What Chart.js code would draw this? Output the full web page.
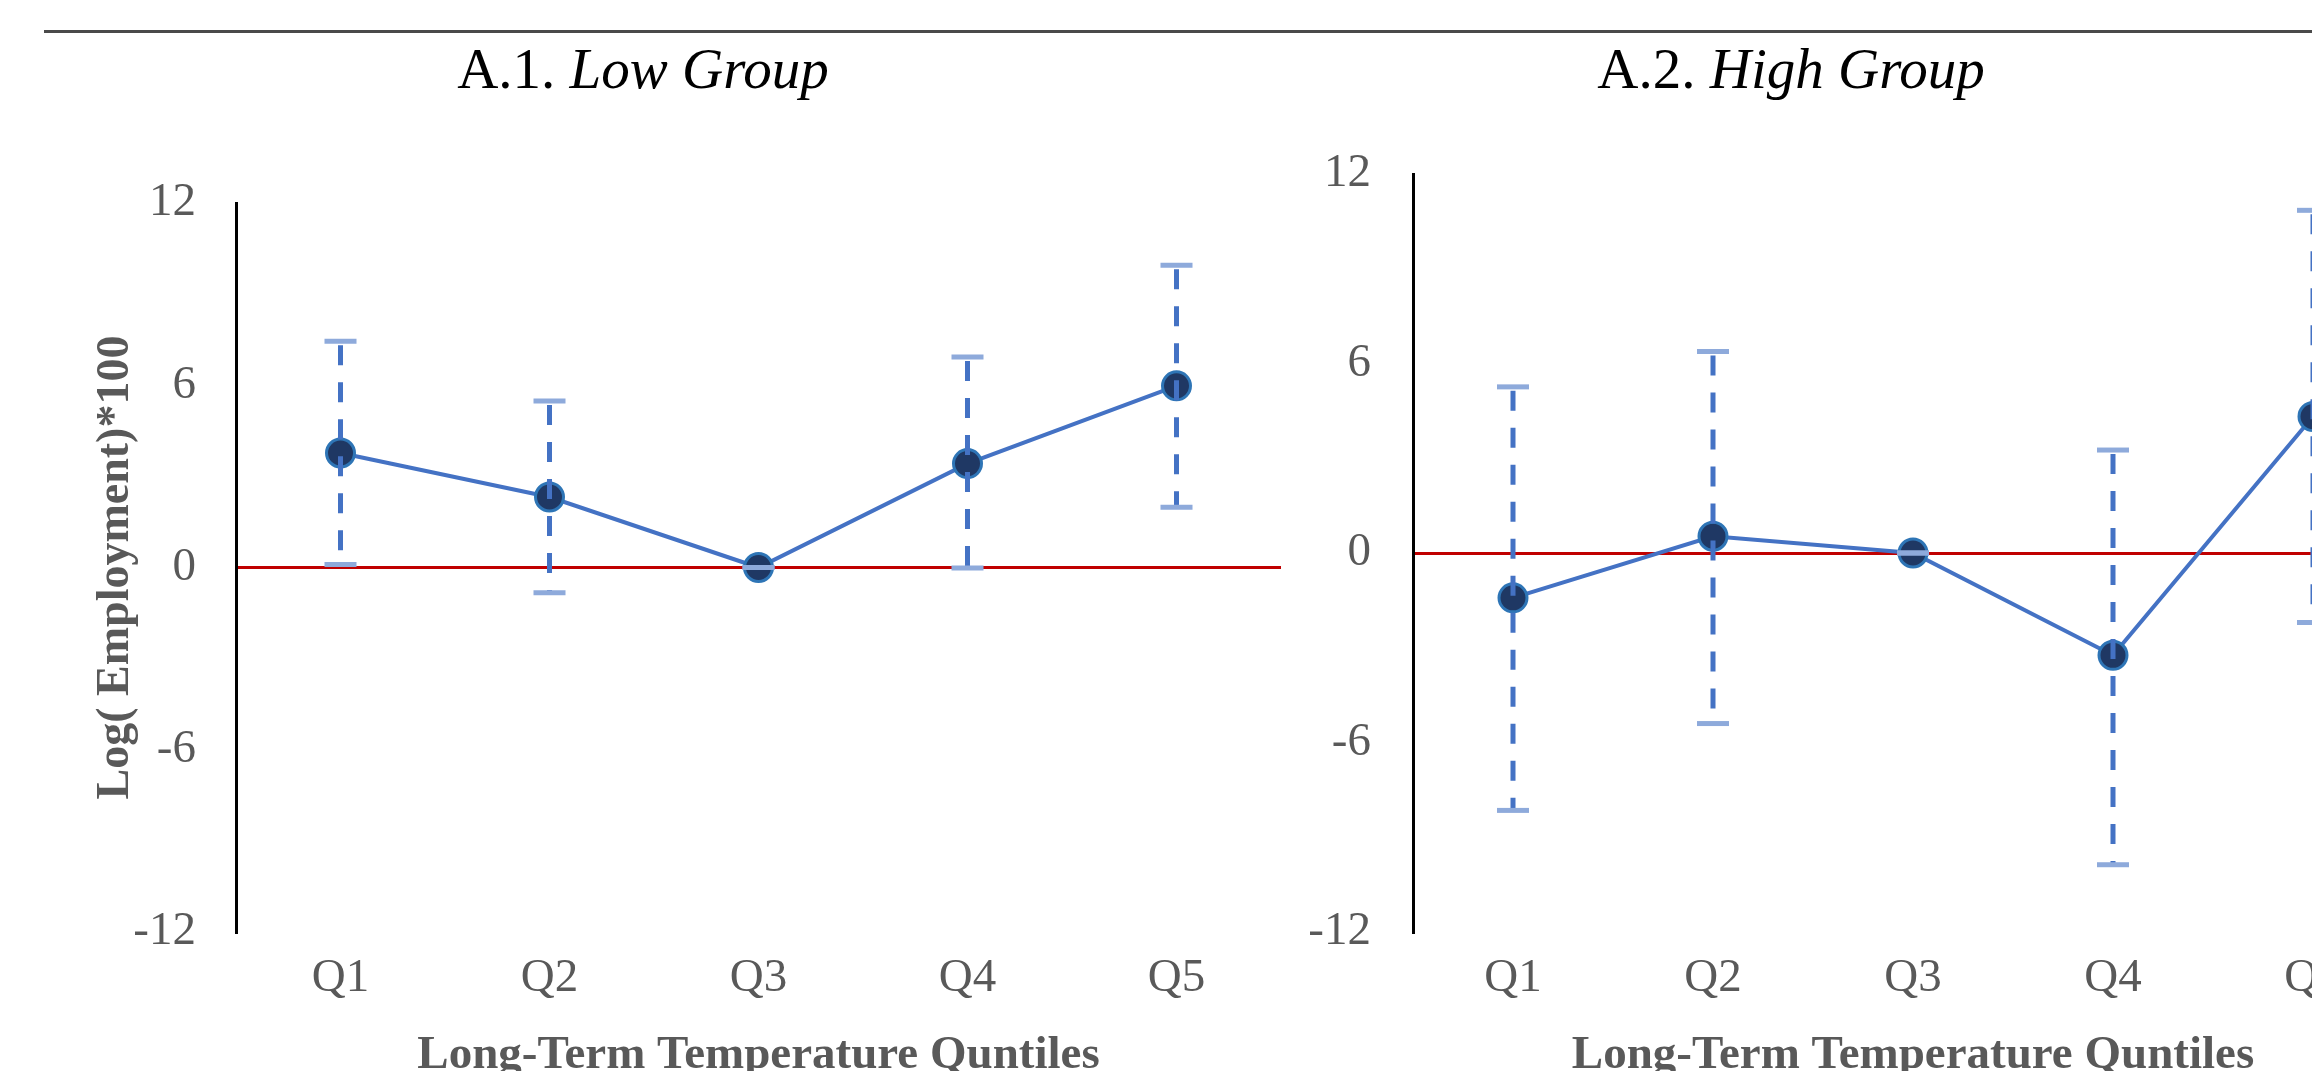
<!DOCTYPE html>
<html><head><meta charset="utf-8">
<script src="https://cdn.jsdelivr.net/npm/chart.js@4.4.1/dist/chart.umd.min.js"></script>
<style>
html,body{margin:0;padding:0;background:#fff;overflow:hidden;width:2312px;height:1071px;}
#wrap{position:relative;width:2312px;height:1071px;overflow:hidden;background:#fff;}
.rule{position:absolute;left:44px;right:0;top:30px;height:3px;background:#4a4a4a;}
.title{position:absolute;font-family:"Liberation Serif","Times New Roman",serif;font-size:57px;line-height:1;color:#000;white-space:nowrap;transform:translateX(-50%);}
canvas{position:absolute;}
</style></head>
<body><div id="wrap">
<div class="rule"></div>
<div class="title" style="left:643px;top:40px">A.1. <i>Low Group</i></div>
<div class="title" style="left:1791px;top:40px">A.2. <i>High Group</i></div>
<canvas id="c1" width="1300" height="1088" style="left:0;top:0"></canvas>
<canvas id="c2" width="1253" height="1088" style="left:1177px;top:0"></canvas>
</div>
<script>
// ---- data ----
const categories = ['Q1', 'Q2', 'Q3', 'Q4', 'Q5'];
const yTicks = [-12, -6, 0, 6, 12];
const lowEstimate = [3.77, 2.32, 0, 3.42, 5.98];
const lowUpper    = [7.45, 5.48, 0, 6.93, 9.95];
const lowLower    = [0.10, -0.83, 0, -0.02, 1.98];
const highEstimate = [-1.42, 0.53, 0, -3.24, 4.32];
const highUpper    = [5.26, 6.38, 0, 3.26, 10.85];
const highLower    = [-8.15, -5.40, 0, -9.87, -2.20];
const xAxisTitle = 'Long-Term Temperature Quntiles';
const yAxisTitle = 'Log( Employment)*100';

const SERIF = '"Liberation Serif", "Times New Roman", serif';

const errorBarPlugin = {
  id: 'errorBars',
  afterDatasetsDraw(chart, args, opts) {
    const ctx = chart.ctx;
    const xs = chart.scales.x, ys = chart.scales.y;
    const up = opts.upper, lo = opts.lower;
    ctx.save();
    for (let i = 0; i < up.length; i++) {
      const x = xs.getPixelForValue(i);
      const yU = ys.getPixelForValue(up[i]);
      const yL = ys.getPixelForValue(lo[i]);
      if (Math.abs(yL - yU) > 1) {
        ctx.beginPath();
        ctx.setLineDash([20, 17]);
        ctx.lineDashOffset = -4;
        ctx.strokeStyle = '#4472C4';
        ctx.lineWidth = 5;
        ctx.moveTo(x, yU);
        ctx.lineTo(x, yL);
        ctx.stroke();
      }
      ctx.setLineDash([]);
      ctx.strokeStyle = '#8EAADB';
      ctx.lineWidth = 5;
      [yU, yL].forEach(y => {
        ctx.beginPath();
        ctx.moveTo(x - 16, y);
        ctx.lineTo(x + 16, y);
        ctx.stroke();
      });
    }
    ctx.restore();
  }
};

function makeChart(id, est, up, lo, cfg) {
  return new Chart(document.getElementById(id), {
    type: 'line',
    data: {
      labels: categories,
      datasets: [{
        data: est,
        borderColor: '#4472C4',
        borderWidth: 4,
        tension: 0,
        pointRadius: 14,
        pointHoverRadius: 14,
        pointBackgroundColor: '#1F3864',
        pointBorderColor: '#2E75B6',
        pointBorderWidth: 3,
        clip: false
      }]
    },
    options: {
      responsive: false,
      devicePixelRatio: 1,
      animation: false,
      events: [],
      layout: { padding: cfg.padding },
      plugins: {
        legend: { display: false },
        tooltip: { enabled: false },
        errorBars: { upper: up, lower: lo }
      },
      scales: {
        x: {
          offset: true,
          grid: { display: false, drawTicks: false },
          border: { display: false },
          ticks: { color: '#595959', font: { family: SERIF, size: 47 }, padding: 18, maxRotation: 0 },
          title: { display: true, text: xAxisTitle, color: '#595959', font: { family: SERIF, size: 47, weight: 'bold' } },
          afterFit: s => { s.height = 156; }
        },
        y: {
          min: -12, max: 12,
          afterBuildTicks: s => { s.ticks = yTicks.map(v => ({ value: v })); },
          grid: {
            drawTicks: false,
            color: c => (c.tick && c.tick.value === 0) ? '#C00000' : 'rgba(0,0,0,0)',
            lineWidth: 3
          },
          border: { display: true, color: '#000', width: 3 },
          ticks: { color: '#595959', font: { family: SERIF, size: 47 }, padding: cfg.tickPad },
          title: { display: cfg.showYTitle, text: yAxisTitle, color: '#595959', font: { family: SERIF, size: 46, weight: 'bold' } },
          afterFit: s => { s.width = cfg.yWidth; }
        }
      }
    },
    plugins: [errorBarPlugin]
  });
}

makeChart('c1', lowEstimate, lowUpper, lowLower, {
  padding: { left: 85, top: 203, right: 19, bottom: 0 },
  yWidth: 151, tickPad: 40, showYTitle: true
});
makeChart('c2', highEstimate, highUpper, highLower, {
  padding: { left: 0, top: 174, right: 0, bottom: 0 },
  yWidth: 236, tickPad: 42, showYTitle: false
});
</script>
</body></html>
